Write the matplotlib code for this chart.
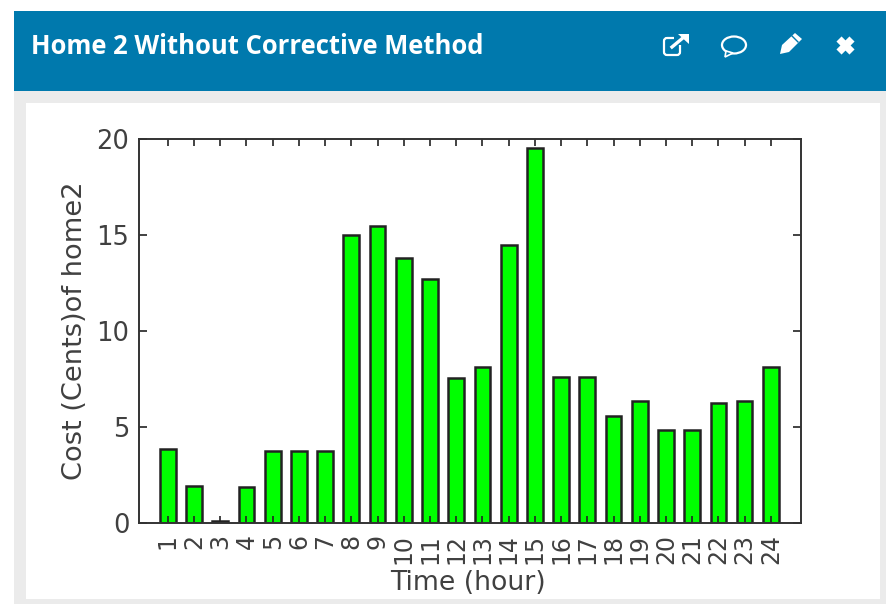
import numpy as np
import matplotlib
matplotlib.use("Agg")
import matplotlib.pyplot as plt
from matplotlib.patches import Rectangle, Polygon, Ellipse, FancyBboxPatch

hours = list(range(1, 25))
cost = [3.85, 1.95, 0.1, 1.85, 3.75, 3.75, 3.75, 15.0, 15.45, 13.8, 12.7, 7.55,
        8.1, 14.5, 19.55, 7.6, 7.6, 5.55, 6.35, 4.85, 4.85, 6.25, 6.35, 8.1]
yticks = [0, 5, 10, 15, 20]
title = "Home 2 Without Corrective Method"
xlabel = "Time (hour)"
ylabel = "Cost (Cents)of home2"

W, H = 886, 604
TXT = "#404040"
plt.rcParams['font.family'] = ['DejaVu Sans']
fig = plt.figure(figsize=(W / 100, H / 100), dpi=100, facecolor="white")

# page furniture in pixel coordinates
bg = fig.add_axes([0, 0, 1, 1])
bg.set_xlim(0, W)
bg.set_ylim(H, 0)
bg.axis("off")
bg.add_patch(Rectangle((14, 91), W - 14, H - 91, fc="#ebebeb", ec="none"))
bg.add_patch(Rectangle((14, 11), W - 14, 80, fc="#0079ad", ec="none"))
bg.add_patch(Rectangle((26, 103), 854, 496, fc="white", ec="none"))
bg.text(31, 46, title, color="white", fontsize=18.45, fontweight="bold",
        family="Open Sans", va="center", ha="left")

# external link icon
bg.add_patch(FancyBboxPatch((664, 38), 16, 17, boxstyle="round,pad=0,rounding_size=3",
                            fc="none", ec="white", lw=1.6))
bg.add_patch(Rectangle((674, 34), 14, 11, fc="#0079ad", ec="none"))
bg.plot([672, 684], [47, 37], color="white", lw=2.4)
bg.add_patch(Polygon([[678, 34], [689, 34], [689, 44]], fc="white", ec="none"))
# comment icon
bg.add_patch(Ellipse((734, 45), 24, 17, fc="none", ec="white", lw=1.6))
bg.add_patch(Polygon([[726, 51], [725, 57], [733, 53]], fc="#0079ad", ec="white", lw=1.2))
# pencil icon
bg.add_patch(Polygon([[780, 54], [782, 45], [795, 33], [802, 39], [789, 52]], fc="white", ec="none"))
bg.plot([792, 798], [36, 42], color="#0079ad", lw=1)
# close icon
bg.plot([839, 852], [39, 52], color="white", lw=5.2, solid_capstyle="butt")
bg.plot([852, 839], [39, 52], color="white", lw=5.2, solid_capstyle="butt")

# chart
L, R, T, B = 139, 801, 139, 523
ax = fig.add_axes([L / W, 1 - B / H, (R - L) / W, (B - T) / H], facecolor="white")
ax.bar(hours, cost, width=0.6, color="#00ff00", edgecolor="#222222", linewidth=1.8, zorder=2)
ax.set_xlim(-0.1, 25.15)
ax.set_ylim(0, 20)
ax.set_xticks(hours)
ax.set_xticklabels([str(h) for h in hours], rotation=90, fontsize=17, color=TXT)
ax.set_yticks(yticks)
ax.set_yticklabels([str(v) for v in yticks], fontsize=18.5, color=TXT)
ax.tick_params(axis="x", direction="in", top=True, length=5, width=1.2, color="#222222", pad=8)
ax.tick_params(axis="y", direction="in", right=True, length=6, width=1.2, color="#222222", pad=7)
for s in ax.spines.values():
    s.set_linewidth(1.4)
    s.set_color("#333333")
    s.set_zorder(3)
ax.set_axisbelow(False)
ax.text(468 / W, 1 - 583 / H, xlabel, fontsize=19.3, color=TXT, ha="center", va="center",
        transform=fig.transFigure)
ax.text(75 / W, 1 - 331 / H, ylabel, fontsize=19.6, color=TXT, ha="center", va="center",
        rotation=90, transform=fig.transFigure)

fig.savefig("out.png", dpi=100)
